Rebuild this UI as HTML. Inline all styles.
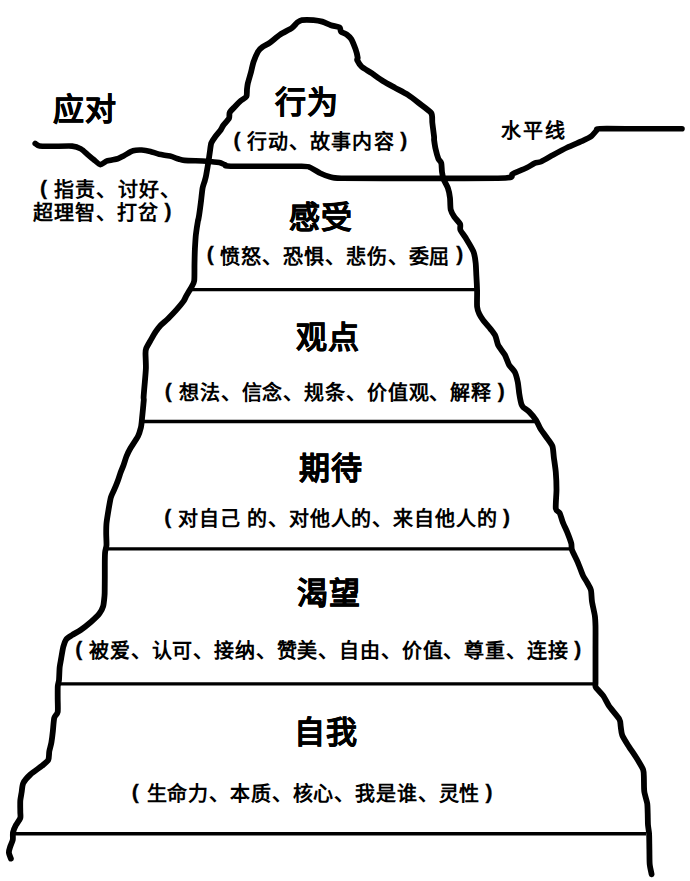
<!DOCTYPE html>
<html lang="zh-CN"><head><meta charset="utf-8"><style>
html,body{margin:0;padding:0;background:#fff;}
body{width:690px;height:881px;position:relative;overflow:hidden;}
.t{position:absolute;-webkit-text-stroke:0.3px #000;font-family:"Liberation Sans",sans-serif;font-weight:bold;color:#000;white-space:nowrap;line-height:1;}
svg{position:absolute;left:0;top:0;}
</style></head><body>
<svg width="690" height="881" viewBox="0 0 690 881">
<path d="M10.9,858.6 C10.7,857.9 9.0,854.2 8.9,852.8 C8.8,851.4 9.6,848.5 10.1,847.0 C10.6,845.5 12.5,841.4 12.8,839.7 C13.1,838.0 12.6,834.2 13.0,832.5 C13.4,830.8 15.0,826.9 15.9,825.2 C16.8,823.5 19.8,819.5 20.3,818.0 C20.8,816.5 20.3,814.0 20.3,812.0 C20.3,810.0 20.1,802.9 20.3,800.6 C20.5,798.3 21.4,793.9 21.7,791.9 C22.0,789.9 22.2,785.2 23.2,783.2 C24.2,781.2 28.2,776.5 30.4,774.5 C32.6,772.5 39.9,767.5 42.0,765.8 C44.1,764.1 47.4,761.6 48.3,759.9 C49.2,758.2 48.9,753.2 49.3,751.2 C49.7,749.2 51.0,744.9 51.4,742.5 C51.8,740.1 52.6,733.8 52.9,730.9 C53.2,728.0 53.7,720.0 54.3,717.8 C54.9,715.6 57.3,714.2 57.7,712.0 C58.1,709.8 57.7,702.0 57.7,699.0 C57.7,696.0 57.6,688.1 57.8,685.9 C58.0,683.7 58.8,682.2 59.0,680.0 C59.2,677.8 59.4,669.5 59.7,667.0 C60.0,664.5 60.8,660.7 61.2,658.3 C61.6,655.9 62.7,648.9 63.3,646.7 C63.9,644.5 65.2,640.8 66.2,639.4 C67.2,638.0 70.3,636.2 72.0,635.1 C73.7,634.0 78.5,631.5 80.7,630.0 C82.9,628.5 88.7,623.9 90.9,622.0 C93.1,620.1 98.2,615.2 99.6,613.3 C101.0,611.4 102.6,608.1 103.2,606.1 C103.8,604.1 104.3,597.9 104.5,596.0 C104.7,594.1 104.7,592.2 104.7,590.0 C104.7,587.8 104.8,579.9 104.8,577.0 C104.8,574.1 104.8,568.3 104.8,565.4 C104.8,562.5 104.9,554.7 105.1,552.3 C105.3,549.9 106.4,547.3 106.5,545.1 C106.6,542.9 106.2,536.0 106.2,533.5 C106.2,531.0 106.2,526.2 106.5,523.3 C106.8,520.4 108.2,511.8 108.7,508.8 C109.2,505.8 110.3,499.4 110.9,497.2 C111.5,495.0 113.3,491.8 114.1,489.9 C114.9,488.0 116.9,483.2 117.7,481.2 C118.5,479.2 119.9,474.4 120.6,472.5 C121.3,470.6 122.8,467.1 123.5,465.2 C124.2,463.3 125.6,458.5 126.4,456.5 C127.2,454.5 129.3,450.2 130.7,447.8 C132.1,445.4 136.8,438.6 138.0,436.2 C139.2,433.8 140.4,429.5 140.9,427.5 C141.4,425.5 141.8,421.0 142.0,418.8 C142.2,416.6 142.8,410.9 143.0,408.7 C143.2,406.5 143.7,401.4 143.8,400.0 C143.9,398.6 143.5,399.0 143.6,397.0 C143.7,395.0 144.5,385.9 144.8,382.5 C145.1,379.1 145.8,371.4 145.9,368.0 C146.0,364.6 145.5,355.8 145.5,353.5 C145.5,351.2 145.6,349.9 146.2,348.4 C146.8,346.9 149.5,342.3 150.6,340.4 C151.7,338.5 154.5,333.5 155.7,331.7 C156.9,329.9 159.3,326.7 160.7,325.2 C162.1,323.7 166.2,320.5 168.0,318.7 C169.8,316.9 174.6,311.9 176.4,309.9 C178.2,307.9 182.4,302.9 183.6,301.2 C184.8,299.5 185.6,296.9 186.5,295.4 C187.4,293.9 190.0,289.8 190.9,288.1 C191.8,286.4 193.8,283.8 194.2,280.9 C194.6,278.0 194.4,267.2 194.5,263.5 C194.6,259.8 194.7,252.4 194.9,249.0 C195.1,245.6 195.5,237.9 195.9,234.5 C196.3,231.1 197.8,221.7 198.1,220.0 C198.4,218.3 198.1,220.9 198.3,219.9 C198.5,218.9 199.4,213.6 199.7,211.2 C200.0,208.8 200.9,202.3 201.2,199.6 C201.5,196.9 202.2,190.2 202.6,188.0 C203.0,185.8 204.4,182.2 204.8,180.7 C205.2,179.2 205.8,177.1 206.2,174.9 C206.6,172.7 208.0,164.6 208.4,161.9 C208.8,159.2 209.6,153.9 209.9,151.7 C210.2,149.5 210.7,144.7 211.3,143.0 C211.9,141.3 213.8,138.7 214.9,137.2 C216.0,135.7 219.7,131.4 220.7,130.0 C221.7,128.6 222.2,126.9 223.2,125.5 C224.2,124.1 228.2,119.8 229.0,118.3 C229.8,116.8 229.0,113.9 229.7,112.5 C230.4,111.1 233.5,108.1 234.8,106.7 C236.1,105.3 239.2,102.1 240.6,100.9 C242.0,99.7 245.7,97.9 246.4,96.5 C247.1,95.1 246.8,90.5 247.0,89.0 C247.2,87.5 247.4,85.3 247.8,83.5 C248.2,81.7 250.0,75.8 250.7,73.3 C251.4,70.8 252.7,64.2 253.6,61.7 C254.5,59.2 257.0,53.3 258.0,51.6 C259.0,49.9 260.9,48.2 262.3,47.2 C263.7,46.2 267.9,44.1 270.0,42.6 C272.1,41.1 277.6,36.3 280.1,34.6 C282.6,32.9 289.7,29.5 291.7,28.1 C293.7,26.7 296.3,23.2 297.5,22.3 C298.7,21.4 300.0,20.4 301.9,20.1 C303.8,19.8 311.1,19.9 313.5,20.1 C315.9,20.3 320.2,21.0 322.2,21.6 C324.2,22.2 328.9,24.5 330.9,25.2 C332.9,25.9 338.4,26.6 339.6,27.4 C340.8,28.2 340.2,30.9 341.0,31.7 C341.8,32.5 345.6,33.7 346.8,34.6 C348.0,35.5 350.2,37.3 351.2,39.0 C352.2,40.7 354.7,46.9 355.5,49.1 C356.3,51.3 357.5,56.5 357.7,57.8 C357.9,59.1 356.7,59.1 357.2,60.1 C357.7,61.1 359.9,65.2 361.6,66.7 C363.3,68.2 369.2,71.5 371.7,73.2 C374.2,74.9 380.6,79.5 383.3,81.2 C386.0,82.9 392.0,86.1 394.9,87.7 C397.8,89.3 405.1,93.0 408.0,94.9 C410.9,96.8 416.9,101.5 419.6,103.6 C422.3,105.7 429.7,110.8 431.2,113.0 C432.7,115.2 432.0,119.7 432.3,122.5 C432.6,125.3 433.9,135.0 434.1,137.0 C434.3,139.0 433.9,138.6 434.1,140.0 C434.3,141.4 435.0,146.5 435.5,148.7 C436.0,150.9 437.7,157.1 438.4,158.8 C439.1,160.5 440.9,161.7 441.3,163.2 C441.7,164.7 441.7,170.0 442.0,171.9 C442.3,173.8 442.8,177.2 443.5,179.1 C444.2,181.0 447.0,185.6 447.8,187.8 C448.6,190.0 449.7,195.5 450.0,198.0 C450.3,200.5 450.2,207.4 450.7,209.6 C451.2,211.8 453.2,215.1 454.3,216.8 C455.4,218.5 459.4,222.6 460.1,224.1 C460.8,225.6 459.7,228.3 460.4,230.0 C461.1,231.7 464.7,236.2 466.2,238.7 C467.7,241.2 472.4,248.8 473.5,251.7 C474.6,254.6 475.4,260.4 475.7,263.3 C476.0,266.2 476.2,273.2 476.4,276.4 C476.6,279.6 477.0,287.4 477.1,290.9 C477.2,294.4 476.8,304.1 477.1,306.8 C477.4,309.5 478.6,312.6 479.3,314.1 C480.0,315.6 481.7,318.3 483.0,320.0 C484.3,321.7 488.9,326.8 490.3,328.7 C491.7,330.6 494.5,334.0 495.4,335.9 C496.3,337.8 497.2,343.2 498.3,345.4 C499.4,347.6 503.5,352.5 504.8,354.8 C506.1,357.1 507.9,362.9 509.1,364.9 C510.3,366.9 513.9,370.2 514.9,372.2 C515.9,374.2 517.3,379.8 517.8,382.3 C518.3,384.8 518.9,391.4 519.3,393.9 C519.7,396.4 520.9,402.5 521.4,404.1 C521.9,405.7 522.3,406.3 523.2,407.2 C524.1,408.1 527.5,410.1 529.0,411.6 C530.5,413.1 534.8,418.3 536.2,420.3 C537.6,422.3 539.2,426.8 540.6,429.0 C542.0,431.2 546.4,437.1 547.8,439.1 C549.2,441.1 551.8,444.3 552.5,446.5 C553.2,448.7 553.5,454.8 553.9,457.8 C554.3,460.8 555.5,468.6 555.8,472.3 C556.1,476.0 556.5,485.5 556.5,489.7 C556.5,493.9 555.4,506.0 555.8,508.7 C556.2,511.4 558.9,511.5 559.7,513.0 C560.5,514.5 561.7,519.3 562.6,521.7 C563.5,524.1 566.7,530.8 567.7,533.3 C568.7,535.8 570.8,541.6 571.3,543.5 C571.8,545.4 571.2,547.8 572.0,550.0 C572.8,552.2 576.5,559.3 577.8,562.3 C579.1,565.3 581.8,573.0 582.9,575.4 C584.0,577.8 586.3,580.9 587.2,582.6 C588.1,584.3 590.3,587.7 590.9,589.9 C591.5,592.1 591.5,598.5 592.0,601.6 C592.5,604.7 594.5,613.2 594.9,616.1 C595.3,619.0 595.4,622.5 595.5,626.2 C595.6,629.9 595.5,643.4 595.5,648.0 C595.5,652.6 595.5,661.9 595.5,666.0 C595.5,670.1 595.5,680.5 595.5,683.0 C595.5,685.5 594.9,685.7 595.8,687.2 C596.7,688.7 601.7,693.7 603.3,695.9 C604.9,698.1 607.2,703.4 609.1,706.1 C611.0,708.8 617.9,716.7 619.3,719.1 C620.7,721.5 620.4,724.5 620.7,726.4 C621.0,728.3 621.3,732.9 622.2,735.1 C623.1,737.3 626.3,742.5 628.0,745.2 C629.7,747.9 634.9,755.4 636.7,758.3 C638.5,761.2 642.4,767.5 643.2,769.9 C644.0,772.3 643.8,776.2 643.9,778.7 C644.0,781.2 643.9,788.8 644.3,791.7 C644.7,794.6 646.8,800.8 647.2,803.3 C647.6,805.8 647.6,811.0 647.7,813.5 C647.8,816.0 647.8,822.7 648.0,825.1 C648.2,827.5 648.9,830.9 649.1,833.8 C649.3,836.7 649.3,846.2 649.4,849.7 C649.5,853.2 649.4,861.3 649.7,864.2 C650.0,867.1 651.4,873.1 651.6,874.3" fill="none" stroke="#000" stroke-width="5.8" stroke-linejoin="round" stroke-linecap="round"/>
<path d="M35.2,143.5 C35.7,143.8 37.6,145.8 39.6,146.1 C41.6,146.4 48.8,146.3 52.6,146.3 C56.4,146.3 68.9,145.8 72.2,146.1 C75.5,146.4 79.1,147.9 80.9,148.9 C82.7,149.9 85.9,153.0 87.4,154.3 C88.9,155.6 92.4,158.6 93.9,159.8 C95.4,161.0 98.9,164.5 100.4,164.6 C101.9,164.7 105.0,161.6 107.0,160.9 C109.0,160.2 115.8,159.3 117.8,158.7 C119.8,158.1 122.5,156.3 124.3,155.4 C126.1,154.5 131.0,151.3 133.0,150.7 C135.0,150.1 139.7,149.9 141.7,150.0 C143.7,150.1 148.4,151.0 150.4,151.5 C152.4,152.0 156.8,153.8 159.1,154.3 C161.4,154.8 167.7,155.6 170.0,156.1 C172.3,156.6 177.0,158.5 178.7,159.0 C180.4,159.5 181.3,160.1 184.5,160.4 C187.7,160.7 202.1,160.9 206.2,161.2 C210.3,161.5 217.1,162.2 219.3,162.6 C221.5,163.0 223.7,164.4 225.1,164.8 C226.5,165.2 222.0,166.0 230.9,166.2 C239.8,166.4 292.5,166.1 301.7,166.2 C310.9,166.3 307.7,166.6 309.9,167.4 C312.1,168.2 318.0,172.1 320.3,173.2 C322.6,174.3 327.2,176.1 329.6,176.7 C332.0,177.3 330.7,178.1 341.2,178.3 C351.7,178.5 400.8,178.4 420.0,178.4 C439.2,178.4 494.6,178.5 505.4,178.0 C516.2,177.5 510.0,175.1 512.5,173.9 C515.0,172.7 524.1,169.1 526.7,167.8 C529.3,166.5 533.1,163.8 534.8,163.1 C536.5,162.4 538.8,162.6 540.9,161.7 C543.0,160.8 549.9,156.7 553.0,155.0 C556.1,153.3 563.6,149.2 567.2,147.5 C570.8,145.8 580.7,141.7 583.5,140.4 C586.3,139.1 590.1,137.2 591.6,136.0 C593.1,134.8 595.8,131.2 596.7,130.3 C597.6,129.4 594.6,128.9 599.7,128.7 C604.8,128.5 630.4,128.8 640.0,128.8 C649.6,128.8 677.1,128.8 682.0,128.8" fill="none" stroke="#000" stroke-width="5.6" stroke-linejoin="round" stroke-linecap="round"/>
<line x1="192" y1="289.6" x2="475" y2="289.6" stroke="#000" stroke-width="3.4"/>
<line x1="141" y1="421.5" x2="535" y2="421.5" stroke="#000" stroke-width="3.4"/>
<line x1="105" y1="548.9" x2="571" y2="548.9" stroke="#000" stroke-width="3.4"/>
<line x1="58" y1="683.9" x2="595.5" y2="683.9" stroke="#000" stroke-width="3.4"/>
<line x1="13.5" y1="833.7" x2="646" y2="833.7" stroke="#000" stroke-width="3.4"/>
</svg>
<div class="t" style="left:275px;top:86.5px;font-size:31px;letter-spacing:1px">行为</div>
<div class="t" style="left:289px;top:201.5px;font-size:31px;letter-spacing:1px">感受</div>
<div class="t" style="left:296px;top:322px;font-size:31px;letter-spacing:1px">观点</div>
<div class="t" style="left:299px;top:453px;font-size:31px;letter-spacing:1px">期待</div>
<div class="t" style="left:297px;top:577.5px;font-size:31px;letter-spacing:1px">渴望</div>
<div class="t" style="left:293.5px;top:716.5px;font-size:31px;letter-spacing:1px">自我</div>
<div class="t" style="left:53px;top:94px;font-size:31px;letter-spacing:1px">应对</div>
<div class="t" style="left:247px;top:132.1px;font-size:20px;letter-spacing:1.1px;-webkit-text-stroke:0">行动、故事内容</div>
<div class="t" style="left:220px;top:246.65px;font-size:20px;letter-spacing:0.95px;-webkit-text-stroke:0">愤怒、恐惧、悲伤、委屈</div>
<div class="t" style="left:179px;top:383px;font-size:20px;letter-spacing:0.87px;-webkit-text-stroke:0">想法、信念、规条、价值观、解释</div>
<div class="t" style="left:178px;top:509.45px;font-size:20px;letter-spacing:0.87px;-webkit-text-stroke:0">对自己&#160;的、对他人的、来自他人的</div>
<div class="t" style="left:89px;top:641px;font-size:20px;letter-spacing:0.85px;-webkit-text-stroke:0">被爱、认可、接纳、赞美、自由、价值、尊重、连接</div>
<div class="t" style="left:146.5px;top:783.9px;font-size:20px;letter-spacing:0.86px;-webkit-text-stroke:0">生命力、本质、核心、我是谁、灵性</div>
<div class="t" style="left:54px;top:179.9px;font-size:20px;letter-spacing:1.2px;-webkit-text-stroke:0">指责、讨好、</div>
<div class="t" style="left:33px;top:203.45px;font-size:20px;letter-spacing:0.95px;-webkit-text-stroke:0">超理智、打岔</div>
<div class="t" style="left:501px;top:120.7px;font-size:20px;letter-spacing:2.1px;-webkit-text-stroke:0">水平线</div>
<div class="t p" style="left:233.45px;top:128.85px;font-size:21px">(</div>
<div class="t p" style="left:400.25px;top:129.05px;font-size:21px">)</div>
<div class="t p" style="left:206.75px;top:243.4px;font-size:21px">(</div>
<div class="t p" style="left:456.15px;top:243.4px;font-size:21px">)</div>
<div class="t p" style="left:164.75px;top:379.75px;font-size:21px">(</div>
<div class="t p" style="left:497.75px;top:380.15px;font-size:21px">)</div>
<div class="t p" style="left:164.25px;top:506.2px;font-size:21px">(</div>
<div class="t p" style="left:503.05px;top:506.3px;font-size:21px">)</div>
<div class="t p" style="left:75.15px;top:637.75px;font-size:21px">(</div>
<div class="t p" style="left:574.15px;top:637.5px;font-size:21px">)</div>
<div class="t p" style="left:131.85px;top:780.65px;font-size:21px">(</div>
<div class="t p" style="left:485.55px;top:780.65px;font-size:21px">)</div>
<div class="t p" style="left:39.95px;top:176.65px;font-size:21px">(</div>
<div class="t p" style="left:164.6px;top:200.2px;font-size:21px">)</div>
</body></html>
